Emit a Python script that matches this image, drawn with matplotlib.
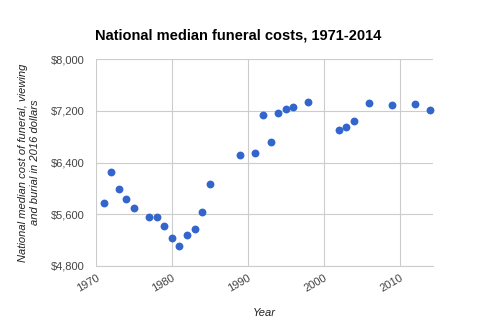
import matplotlib
matplotlib.use("Agg")
import matplotlib.pyplot as plt
from matplotlib.ticker import FuncFormatter

plt.rcParams["font.family"] = ["Liberation Sans", "DejaVu Sans"]

# median funeral cost, 2016 dollars
years = [1971, 1972, 1973, 1974, 1975, 1977, 1978, 1979, 1980, 1981,
         1982, 1983, 1984, 1985, 1989, 1991, 1992, 1993, 1994, 1995,
         1996, 1998, 2002, 2003, 2004, 2006, 2009, 2012, 2014]
costs = [5780, 6250, 5990, 5835, 5695, 5555, 5560, 5425, 5230, 5105,
         5280, 5375, 5630, 6065, 6515, 6545, 7145, 6720, 7165, 7225,
         7260, 7335, 6900, 6955, 7045, 7320, 7285, 7310, 7220]

x_ticks = [1970, 1980, 1990, 2000, 2010]
y_ticks = [4800, 5600, 6400, 7200, 8000]

fig = plt.figure(figsize=(4.8, 3.23), dpi=100)
ax = fig.add_axes([0.2, 0.1765, 0.702, 0.64])

ax.scatter(years, costs, s=32, color="#3366cc", zorder=3, clip_on=False,
           linewidths=0)

ax.set_xlim(1970, 2014.4)
ax.set_ylim(4800, 8000)
ax.set_xticks(x_ticks)
ax.set_yticks(y_ticks)
ax.yaxis.set_major_formatter(FuncFormatter(lambda v, p: f"${v:,.0f}"))

ax.grid(color="#cccccc", linewidth=0.8)
ax.set_axisbelow(True)
for side in ["top", "right", "left"]:
    ax.spines[side].set_visible(False)
ax.spines["bottom"].set_color("#cccccc")
ax.tick_params(length=0, labelsize=8, colors="#444444")
ax.tick_params(axis="x", pad=5)
ax.tick_params(axis="y", pad=8)
for lbl in ax.get_xticklabels():
    lbl.set_rotation(30)
    lbl.set_ha("right")
    lbl.set_rotation_mode("anchor")

ax.set_xlabel("Year", style="italic", fontsize=8, color="#222222", labelpad=10)
ax.set_ylabel("National median cost of funeral, viewing\nand burial in 2016 dollars",
              style="italic", fontsize=8, color="#222222", labelpad=8)

fig.text(0.496, 0.89, "National median funeral costs, 1971-2014",
         ha="center", va="center", fontsize=10.5, fontweight="bold")

fig.savefig("out.png", dpi=100)
